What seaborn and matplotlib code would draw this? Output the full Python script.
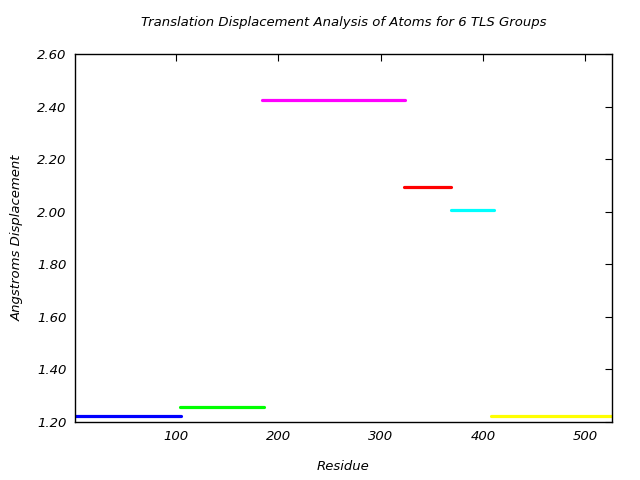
import matplotlib
matplotlib.use("Agg")
import matplotlib.pyplot as plt
import seaborn as sns
import pandas as pd

groups = ["1", "2", "3", "4", "5", "6"]
res_start = [1, 104, 184, 323, 369, 408]
res_end = [105, 186, 324, 369, 411, 526]
displacement = [1.222, 1.256, 2.424, 2.093, 2.006, 1.222]
colors = ["#0000ff", "#00ff00", "#ff00ff", "#ff0000", "#00ffff", "#ffff00"]
xticks = [100, 200, 300, 400, 500]
yticks = [1.20, 1.40, 1.60, 1.80, 2.00, 2.20, 2.40, 2.60]

rows = []
for g, s, e, d in zip(groups, res_start, res_end, displacement):
    rows.append({"group": g, "residue": s, "disp": d})
    rows.append({"group": g, "residue": e, "disp": d})
df = pd.DataFrame(rows)

sns.set_style("white")
plt.rcParams["font.family"] = ["DejaVu Sans"]
plt.rcParams["text.color"] = "black"
plt.rcParams["axes.labelcolor"] = "black"
plt.rcParams["xtick.color"] = "black"
plt.rcParams["ytick.color"] = "black"

fig = plt.figure(figsize=(6.4, 4.8), dpi=100)
ax = fig.add_axes([0.117, 0.121, 0.839, 0.7665])
sns.lineplot(data=df, x="residue", y="disp", hue="group", palette=colors,
             linewidth=2.3, legend=False, ax=ax, estimator=None, sort=False)

ax.set_xlim(1, 526)
ax.set_ylim(1.2, 2.6)
ax.set_xticks(xticks)
ax.set_yticks(yticks)
ax.set_xticklabels([str(t) for t in xticks], fontstyle="italic", fontsize=9.5)
ax.set_yticklabels([f"{t:.2f}" for t in yticks], fontstyle="italic", fontsize=9.5)
ax.tick_params(direction="in", top=True, right=True, length=5, width=0.8, pad=6,
               colors="black")
for sp in ax.spines.values():
    sp.set_visible(True)
    sp.set_color("black")
    sp.set_linewidth(1.0)
ax.set_xlabel("Residue", fontstyle="italic", fontsize=9.5, labelpad=12, color="black")
ax.set_ylabel("Angstroms Displacement", fontstyle="italic", fontsize=9.5, labelpad=10,
              color="black")
ax.set_title("Translation Displacement Analysis of Atoms for 6 TLS Groups",
             fontstyle="italic", fontsize=9.5, pad=20, color="black")

fig.savefig("out.png", dpi=100)
